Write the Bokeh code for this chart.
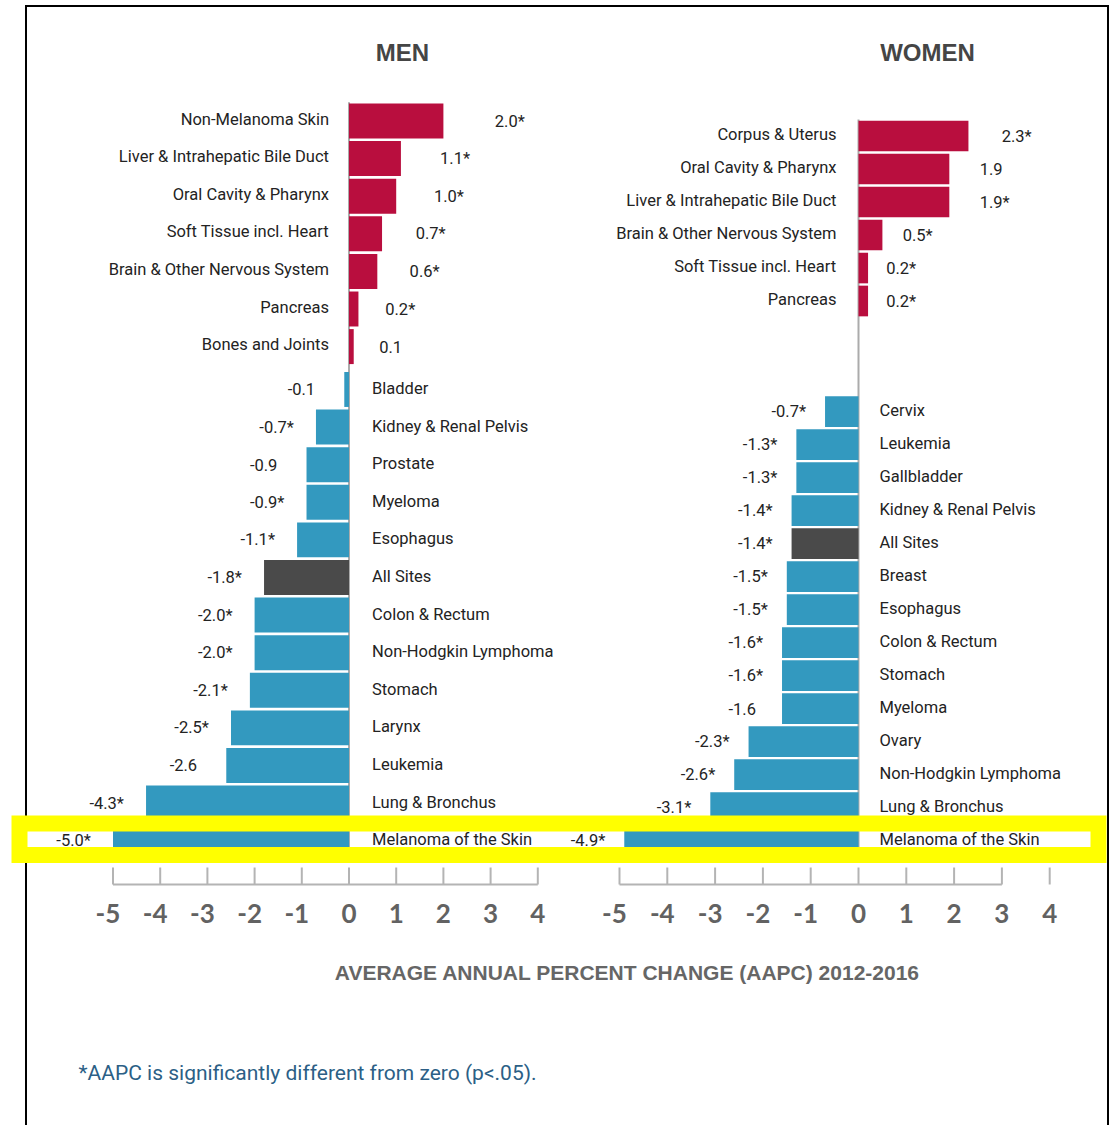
from bokeh.plotting import figure
from bokeh.models import Range1d, ColumnDataSource, Label
from bokeh.embed import file_html
from bokeh.resources import INLINE
from bokeh.core.properties import value

# ---------------- data ----------------
men_sites = ["Non-Melanoma Skin", "Liver & Intrahepatic Bile Duct", "Oral Cavity & Pharynx",
             "Soft Tissue incl. Heart", "Brain & Other Nervous System", "Pancreas", "Bones and Joints",
             "Bladder", "Kidney & Renal Pelvis", "Prostate", "Myeloma", "Esophagus", "All Sites",
             "Colon & Rectum", "Non-Hodgkin Lymphoma", "Stomach", "Larynx", "Leukemia",
             "Lung & Bronchus", "Melanoma of the Skin"]
men_aapc = [2.0, 1.1, 1.0, 0.7, 0.6, 0.2, 0.1, -0.1, -0.7, -0.9, -0.9, -1.1, -1.8,
            -2.0, -2.0, -2.1, -2.5, -2.6, -4.3, -5.0]
men_sig = [True, True, True, True, True, True, False, False, True, False, True, True, True,
           True, True, True, True, False, True, True]

women_sites = ["Corpus & Uterus", "Oral Cavity & Pharynx", "Liver & Intrahepatic Bile Duct",
               "Brain & Other Nervous System", "Soft Tissue incl. Heart", "Pancreas", "Cervix",
               "Leukemia", "Gallbladder", "Kidney & Renal Pelvis", "All Sites", "Breast", "Esophagus",
               "Colon & Rectum", "Stomach", "Myeloma", "Ovary", "Non-Hodgkin Lymphoma",
               "Lung & Bronchus", "Melanoma of the Skin"]
women_aapc = [2.3, 1.9, 1.9, 0.5, 0.2, 0.2, -0.7, -1.3, -1.3, -1.4, -1.4, -1.5, -1.5,
              -1.6, -1.6, -1.6, -2.3, -2.6, -3.1, -4.9]
women_sig = [True, False, True, True, True, True, True, True, True, True, True, True, True,
             True, True, False, True, True, True, True]

x_ticks = [-5, -4, -3, -2, -1, 0, 1, 2, 3, 4]

panel_titles = ["MEN", "WOMEN"]
axis_title = "AVERAGE ANNUAL PERCENT CHANGE (AAPC) 2012-2016"
footnote = "*AAPC is significantly different from zero (p<.05)."

# ---------------- style ----------------
RED = "#b90e3e"
BLUE = "#3399bf"
DARK = "#4a4a4a"
ZERO = "#ababab"
AXIS = "#b4b4b4"
LABEL_FONT = "Roboto"
TICK_FONT = "Lato"
HEAD_FONT = "Liberation Sans"

W, H = 1110, 1125
LEFT, TOP = 0, 0

p = figure(width=W, height=H, x_range=Range1d(LEFT, LEFT + W), y_range=Range1d(TOP + H, TOP),
           toolbar_location=None, output_backend="svg", min_border=0,
           x_axis_type=None, y_axis_type=None, outline_line_color=None,
           background_fill_color="white", border_fill_color="white")


def add_panel(key, sites, vals, sig, zero_px, unit_px, row0_px, row_px, gap,
              lab_a, lab_b, neg_gap, cat_off_pos, cat_off_neg, axis_hi):
    xr = Range1d((LEFT - zero_px) / unit_px, (LEFT + W - zero_px) / unit_px)
    yr = Range1d((TOP + H - row0_px) / row_px, (TOP - row0_px) / row_px)
    p.extra_x_ranges[key + "x"] = xr
    p.extra_y_ranges[key + "y"] = yr
    xn, yn = key + "x", key + "y"

    pos, colors, vx, vtxt = [], [], [], []
    for i, (s, v, g) in enumerate(zip(sites, vals, sig)):
        pos.append(i + (gap if v < 0 else 0.0))
        colors.append(DARK if s == "All Sites" else (RED if v > 0 else BLUE))
        vtxt.append(f"{v:.1f}" + ("*" if g else ""))
        vx.append(lab_a + lab_b * v if v > 0 else v - neg_gap)
    src = ColumnDataSource(dict(site=sites, v=vals, pos=pos, color=colors, vx=vx, vtxt=vtxt))

    # zero line
    p.segment(x0=[0], x1=[0], y0=[-0.5], y1=[pos[-1] + 0.5], line_color=ZERO, line_width=2,
              x_range_name=xn, y_range_name=yn)
    # bars
    p.hbar(y="pos", left=0, right="v", height=0.93, fill_color="color", line_color=None,
           source=src, x_range_name=xn, y_range_name=yn)

    pos_idx = [i for i, v in enumerate(vals) if v > 0]
    neg_idx = [i for i, v in enumerate(vals) if v <= 0]
    sp = ColumnDataSource(dict(pos=[pos[i] for i in pos_idx], site=[sites[i] for i in pos_idx],
                               vx=[vx[i] for i in pos_idx], vtxt=[vtxt[i] for i in pos_idx]))
    sn = ColumnDataSource(dict(pos=[pos[i] for i in neg_idx], site=[sites[i] for i in neg_idx],
                               vx=[vx[i] for i in neg_idx], vtxt=[vtxt[i] for i in neg_idx]))
    common = dict(text_font=value(LABEL_FONT), text_color="#232323",
                  text_baseline="middle", x_range_name=xn, y_range_name=yn)
    # category labels
    p.text(x=0, y="pos", text="site", source=sp, text_align="right", x_offset=cat_off_pos,
           y_offset=-2, text_font_size="16.5px", **common)
    p.text(x=0, y="pos", text="site", source=sn, text_align="left", x_offset=cat_off_neg,
           y_offset=-1, text_font_size="16.5px", **common)
    # value labels
    p.text(x="vx", y="pos", text="vtxt", source=sp, text_align="left", text_font_size="16.5px",
           **common)
    p.text(x="vx", y="pos", text="vtxt", source=sn, text_align="left", text_font_size="16.5px",
           **common)

    # x axis (drawn at data x positions)
    p.segment(x0=[x_ticks[0]], x1=[axis_hi], y0=[884], y1=[884], line_color=AXIS, line_width=2,
              x_range_name=xn)
    p.segment(x0=x_ticks, x1=x_ticks, y0=[867] * len(x_ticks), y1=[884] * len(x_ticks),
              line_color=AXIS, line_width=2, x_range_name=xn)
    neg_t = [t for t in x_ticks if t < 0]
    pos_t = [t for t in x_ticks if t >= 0]
    tick_style = dict(text_align="center", text_baseline="middle", text_font=value(TICK_FONT),
                      text_font_size="26px", text_color="#626262", text_font_style="bold",
                      x_range_name=xn)
    p.text(x=neg_t, y=[913] * len(neg_t), text=[str(t) for t in neg_t], x_offset=-5, **tick_style)
    p.text(x=pos_t, y=[913] * len(pos_t), text=[str(t) for t in pos_t], **tick_style)


add_panel("m", men_sites, men_aapc, men_sig, zero_px=348.5, unit_px=47.2, row0_px=120.5,
          row_px=37.6, gap=0.14, lab_a=0.51, lab_b=1.29, neg_gap=1.2, cat_off_pos=-20,
          cat_off_neg=23, axis_hi=4)
add_panel("w", women_sites, women_aapc, women_sig, zero_px=858.0, unit_px=47.8, row0_px=135.5,
          row_px=33.0, gap=2.35, lab_a=0.35, lab_b=1.15, neg_gap=1.12, cat_off_pos=-22,
          cat_off_neg=21, axis_hi=3)

# titles
for t, x in zip(panel_titles, [402, 927]):
    p.add_layout(Label(x=x, y=52, text=t, text_align="center", text_baseline="middle",
                       text_font=HEAD_FONT, text_font_size="24px", text_font_style="bold",
                       text_color="#454545"))
p.add_layout(Label(x=627, y=972, text=axis_title, text_align="center", text_baseline="middle",
                   text_font=HEAD_FONT, text_font_size="21px", text_font_style="bold",
                   text_color="#666666"))
p.add_layout(Label(x=78, y=1072, text=footnote, text_align="left", text_baseline="middle",
                   text_font=LABEL_FONT, text_font_size="21px", text_color="#2c5f86"))

# frame border of the original picture
p.quad(left=[25.5], right=[1107.5], top=[5.5], bottom=[1160], fill_alpha=0, line_color="black",
       line_width=2, line_join="miter")
# yellow highlight box
p.quad(left=[19], right=[1098], top=[823], bottom=[854.5], fill_alpha=0, line_color="#ffff00",
       line_width=16, line_join="miter")

open("out.html", "w").write(file_html(p, INLINE))
